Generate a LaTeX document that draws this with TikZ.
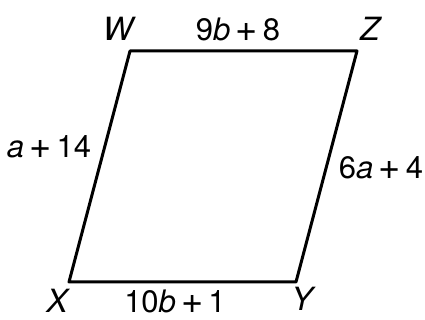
\documentclass[tikz,border=0pt]{standalone}
\usepackage{fontspec}
\setmainfont{TeX Gyre Heros}
\usetikzlibrary{calc}

\newcommand{\bigplus}{\,{\fontsize{19}{18}\selectfont\raisebox{-0.6pt}{+}}\,}

\begin{document}
\begin{tikzpicture}[
    x=0.5pt,y=-0.5pt,
    line cap=round,
    line join=round,
    every node/.style={font=\fontsize{15.5}{18}\selectfont},
    side/.style={line width=1.5pt},
    vlab/.style={font=\fontsize{16}{18}\selectfont\itshape},
    lab/.style={font=\fontsize{15.5}{18}\selectfont}
]
\useasboundingbox (0,0) rectangle (425,320);

% ============================================================
% corners
% ============================================================

\coordinate (W) at (130,51);
\coordinate (Z) at (357,51);
\coordinate (Y) at (296,282);
\coordinate (X) at (69,282);

\draw[side] (W) -- (Z) -- (Y) -- (X) -- cycle;

% ============================================================
% vertex labels
% ============================================================

\node[vlab] (labW) at (118,29) {W};
\node[vlab] (labZ) at (370,29) {Z};
\node[vlab] (labX) at (57,301) {X};
\node[vlab] (labY) at (302,299) {Y};

% ============================================================
% side lengths
% ============================================================

\node[lab] (sWZ) at (238,30) {9\textit{b}\bigplus8};
\node[lab] (sWX) at (49,147) {\textit{a}\bigplus14};
\node[lab] (sZY) at (381,168) {6\textit{a}\bigplus4};
\node[lab] (sXY) at (175,302) {10\textit{b}\bigplus1};

\end{tikzpicture}
\end{document}
